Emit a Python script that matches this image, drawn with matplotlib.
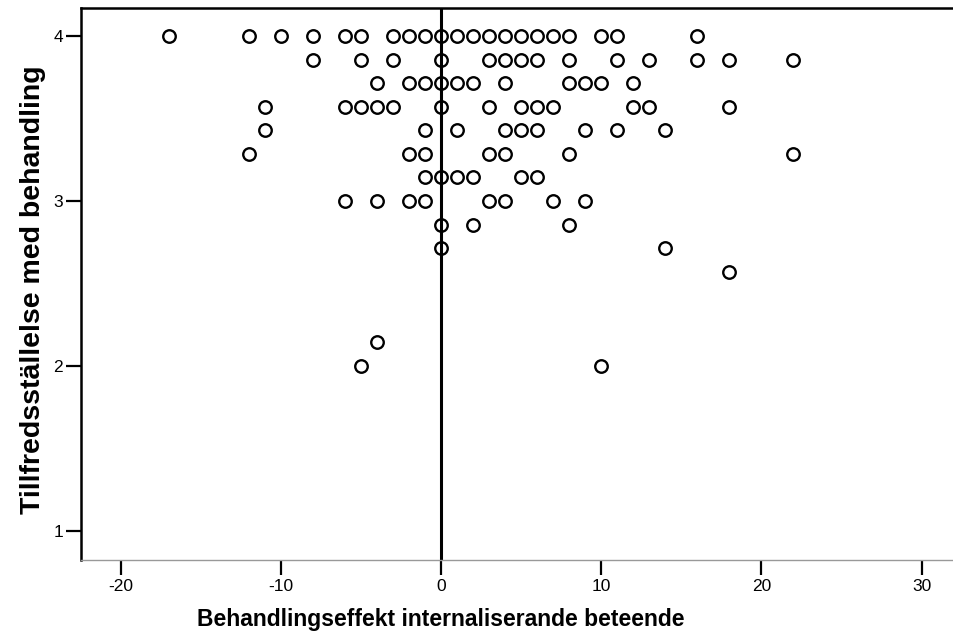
import numpy as np
import matplotlib.pyplot as plt

plt.rcParams['font.family'] = ['Liberation Sans', 'DejaVu Sans']
plt.rcParams['axes.unicode_minus'] = False

# satisfaction levels (scale 1-4, means of 7 items)
levels = [4.0, 27/7, 26/7, 25/7, 24/7, 23/7, 22/7, 3.0, 20/7, 19/7, 18/7, 15/7, 2.0]

# treatment effect per satisfaction level
effect = [
    [-17, -12, -10, -8, -6, -5, -3, -2, -1, 0, 1, 2, 3, 4, 5, 6, 7, 8, 10, 11, 16],
    [-8, -5, -3, 0, 3, 4, 5, 6, 8, 11, 13, 16, 18, 22],
    [-4, -2, -1, 0, 1, 2, 4, 8, 9, 10, 12],
    [-11, -6, -5, -4, -3, 0, 3, 5, 6, 7, 12, 13, 18],
    [-11, -1, 1, 4, 5, 6, 9, 11, 14],
    [-12, -2, -1, 3, 4, 8, 22],
    [-1, 0, 1, 2, 5, 6],
    [-6, -4, -2, -1, 3, 4, 7, 9],
    [0, 2, 8],
    [0, 14],
    [18],
    [-4],
    [-5, 10],
]

x = []
y = []
for lev, vals in zip(levels, effect):
    for v in vals:
        x.append(v)
        y.append(lev)

fig = plt.figure(figsize=(9.54, 6.38), dpi=100)
ax = fig.add_axes([81/954, 1 - 560/638, 871/954, 552/638])

ax.plot(x, y, 'o', ms=9, mfc='none', mec='black', mew=1.7, linestyle='none')
ax.axvline(0, color='black', lw=2.2)

ax.set_xlim(-22.5, 31.9)
ax.set_ylim(0.824, 4.17)
ax.set_xticks([-20, -10, 0, 10, 20, 30])
ax.set_yticks([1, 2, 3, 4])
ax.tick_params(axis='both', direction='out', length=11, width=1.6, labelsize=12.5, color='black')
ax.tick_params(axis='x', pad=3)
ax.tick_params(axis='y', pad=2)

for s in ['left', 'top']:
    ax.spines[s].set_linewidth(1.8)
ax.spines['bottom'].set_color('#999999')
ax.spines['bottom'].set_linewidth(1.0)
ax.spines['right'].set_visible(False)

ax.set_xlabel('Behandlingseffekt internaliserande beteende', fontsize=16.5, fontweight='bold')
ax.set_ylabel('Tillfredsställelse med behandling', fontsize=20.5, fontweight='bold')
ax.xaxis.set_label_coords((441 - 81) / 871, (560 - 608) / 552)
ax.yaxis.set_label_coords((46 - 81) / 871, (560 - 290) / 552)

fig.savefig('out.png', dpi=100)
